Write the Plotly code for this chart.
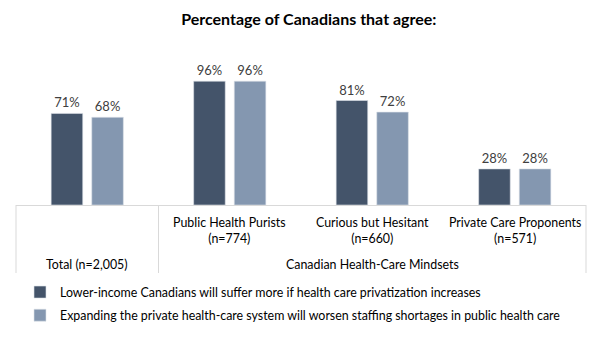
import plotly.graph_objects as go

categories = ["Total", "Public Health Purists", "Curious but Hesitant", "Private Care Proponents"]
cat_labels = ["", "Public Health Purists<br>(n=774)", "Curious but Hesitant<br>(n=660)", "Private Care Proponents<br>(n=571)"]
series_names = [
    "Lower-income Canadians will suffer more if health care privatization increases",
    "Expanding the private health-care system will worsen staffing shortages in public health care",
]
lower_income = [71, 96, 81, 28]
staffing = [68, 96, 72, 28]
colors = ["#44546A", "#8497B0"]

FONT = "Lato"
W, H = 602, 337
L, R, T, B = 16, 16, 76, 2
PH = H - T - B  # paper height in px
AXIS_Y = 205  # pixel y of bar baseline


def py(ypix):
    """pixel y (from top) -> paper fraction"""
    return (H - B - ypix) / PH


fig = go.Figure()
for i, (name, vals) in enumerate(zip(series_names, [lower_income, staffing])):
    fig.add_trace(go.Bar(
        x=categories, y=vals, name=name,
        marker=dict(color=colors[i], line=dict(color="#DDE3EA", width=0.6)),
        text=[f"{v}%" for v in vals], textposition="outside",
        textfont=dict(family=FONT, size=13, color="#404040"),
        cliponaxis=False, legendgroup=f"g{i}",
    ))

fig.update_layout(
    width=W, height=H,
    margin=dict(l=L, r=R, t=T, b=B),
    paper_bgcolor="white", plot_bgcolor="white",
    barmode="group", bargap=0.43, bargroupgap=0.222,
    font=dict(family=FONT, size=12.4, color="#404040"),
    title=dict(text="<b>Percentage of Canadians that agree:</b>", x=0.513, xanchor="center",
               y=1 - 19 / H, yanchor="middle",
               font=dict(family=FONT, size=16, color="#000000")),
    xaxis=dict(showticklabels=False, showline=True, linecolor="#D9D9D9", linewidth=1,
               ticks="", showgrid=False, zeroline=False, fixedrange=True),
    yaxis=dict(range=[0, 100], domain=[py(AXIS_Y), 1], visible=False, showgrid=False,
               zeroline=False),
    showlegend=True,
    legend=dict(x=(20 - L) / (W - L - R), xanchor="left", y=py(277.5),
                yanchor="top", orientation="v", traceorder="grouped", tracegroupgap=4,
                font=dict(family=FONT, size=12.4, color="#000000"), itemclick=False,
                bgcolor="rgba(0,0,0,0)"),
)

# category labels
for c, lab in zip(categories, cat_labels):
    if lab:
        fig.add_annotation(x=c, xref="x", y=py(230.5), yref="paper",
                           text=lab, showarrow=False, yanchor="middle",
                           font=dict(family=FONT, size=12.4, color="#000000"))
fig.add_annotation(x=categories[0], xref="x", y=py(264), yref="paper",
                   text="Total (n=2,005)", showarrow=False, yanchor="middle",
                   font=dict(family=FONT, size=12.4, color="#000000"))
fig.add_annotation(x=2, xref="x", y=py(264), yref="paper",
                   text="Canadian Health-Care Mindsets", showarrow=False, yanchor="middle",
                   font=dict(family=FONT, size=12.4, color="#000000"))

# separator lines
for xv, xr in [(0, "paper"), (1, "paper"), (0.5, "x")]:
    fig.add_shape(type="line", xref=xr, yref="paper", x0=xv, x1=xv, y0=py(AXIS_Y), y1=py(273),
                  line=dict(color="#D9D9D9", width=1))

fig.write_html("out.html")
